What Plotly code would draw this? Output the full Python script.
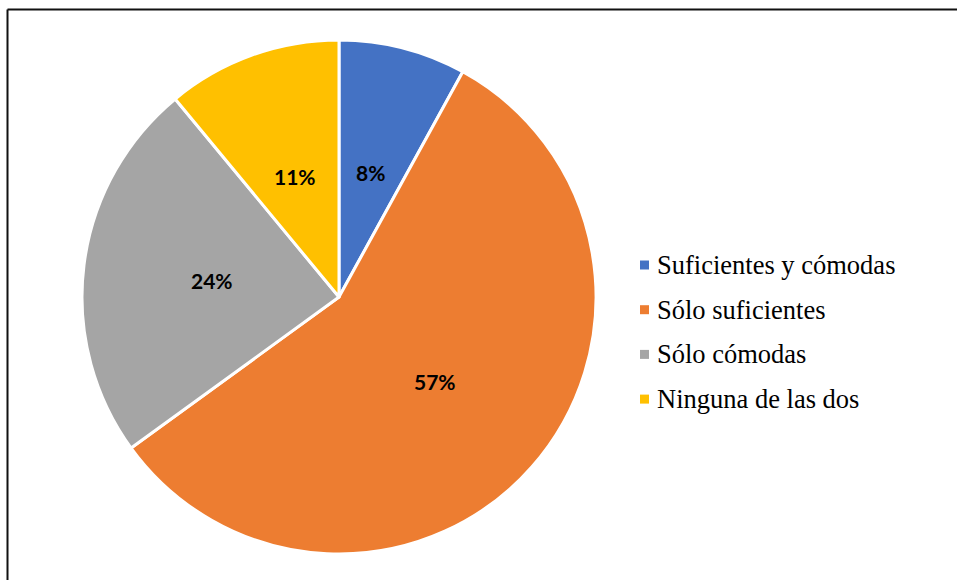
import math
import plotly.graph_objects as go

# Survey responses
categories = ["Suficientes y cómodas", "Sólo suficientes", "Sólo cómodas", "Ninguna de las dos"]
values = [8, 57, 24, 11]
colors = ["#4472C4", "#ED7D31", "#A5A5A5", "#FFC000"]

W, H = 957, 580
CX, CY, R = 339, 297, 257  # pie centre and radius in pixels

fig = go.Figure(
    go.Pie(
        labels=categories,
        values=values,
        sort=False,
        direction="clockwise",
        rotation=0,
        marker=dict(colors=colors, line=dict(color="white", width=3)),
        textinfo="none",
        hoverinfo="label+percent",
        showlegend=False,
        domain=dict(
            x=[(CX - R) / W, (CX + R) / W],
            y=[1 - (CY + R) / H, 1 - (CY - R) / H],
        ),
    )
)

annotations = []
total = sum(values)
cum = 0.0
for v in values:
    mid = (cum + v / 2) / total * 2 * math.pi
    cum += v
    px = CX + 0.5 * R * math.sin(mid)
    py = CY - 0.5 * R * math.cos(mid)
    annotations.append(
        dict(
            x=px / W, y=1 - py / H, xref="paper", yref="paper",
            text=f"<b>{round(v / total * 100)}%</b>", showarrow=False,
            font=dict(family="Lato, Carlito, Arial", size=21, color="black"),
            xanchor="center", yanchor="middle",
        )
    )

# Legend drawn as squares plus labels
shapes = []
leg_x, leg_y0, leg_dy = 640, 265, 44.7
for i, (name, col) in enumerate(zip(categories, colors)):
    yc = leg_y0 + i * leg_dy
    shapes.append(
        dict(type="rect", xref="paper", yref="paper",
             x0=leg_x / W, x1=(leg_x + 9) / W,
             y0=1 - (yc + 4.5) / H, y1=1 - (yc - 4.5) / H,
             fillcolor=col, line=dict(width=0))
    )
    annotations.append(
        dict(x=(leg_x + 15) / W, y=1 - yc / H, xref="paper", yref="paper",
             text=name, showarrow=False, xanchor="left", yanchor="middle",
             font=dict(family="Liberation Serif, Times New Roman, serif", size=26.5, color="black"))
    )

# Frame lines along the top and left edges
shapes.append(dict(type="line", xref="paper", yref="paper",
                   x0=7.5 / W, x1=1, y0=1 - 9.5 / H, y1=1 - 9.5 / H,
                   line=dict(color="#111111", width=2)))
shapes.append(dict(type="line", xref="paper", yref="paper",
                   x0=7.5 / W, x1=7.5 / W, y0=0, y1=1 - 9.5 / H,
                   line=dict(color="#111111", width=2)))

fig.update_layout(
    width=W, height=H,
    margin=dict(l=0, r=0, t=0, b=0),
    paper_bgcolor="white", plot_bgcolor="white",
    annotations=annotations, shapes=shapes,
)

fig.write_html("out.html")
